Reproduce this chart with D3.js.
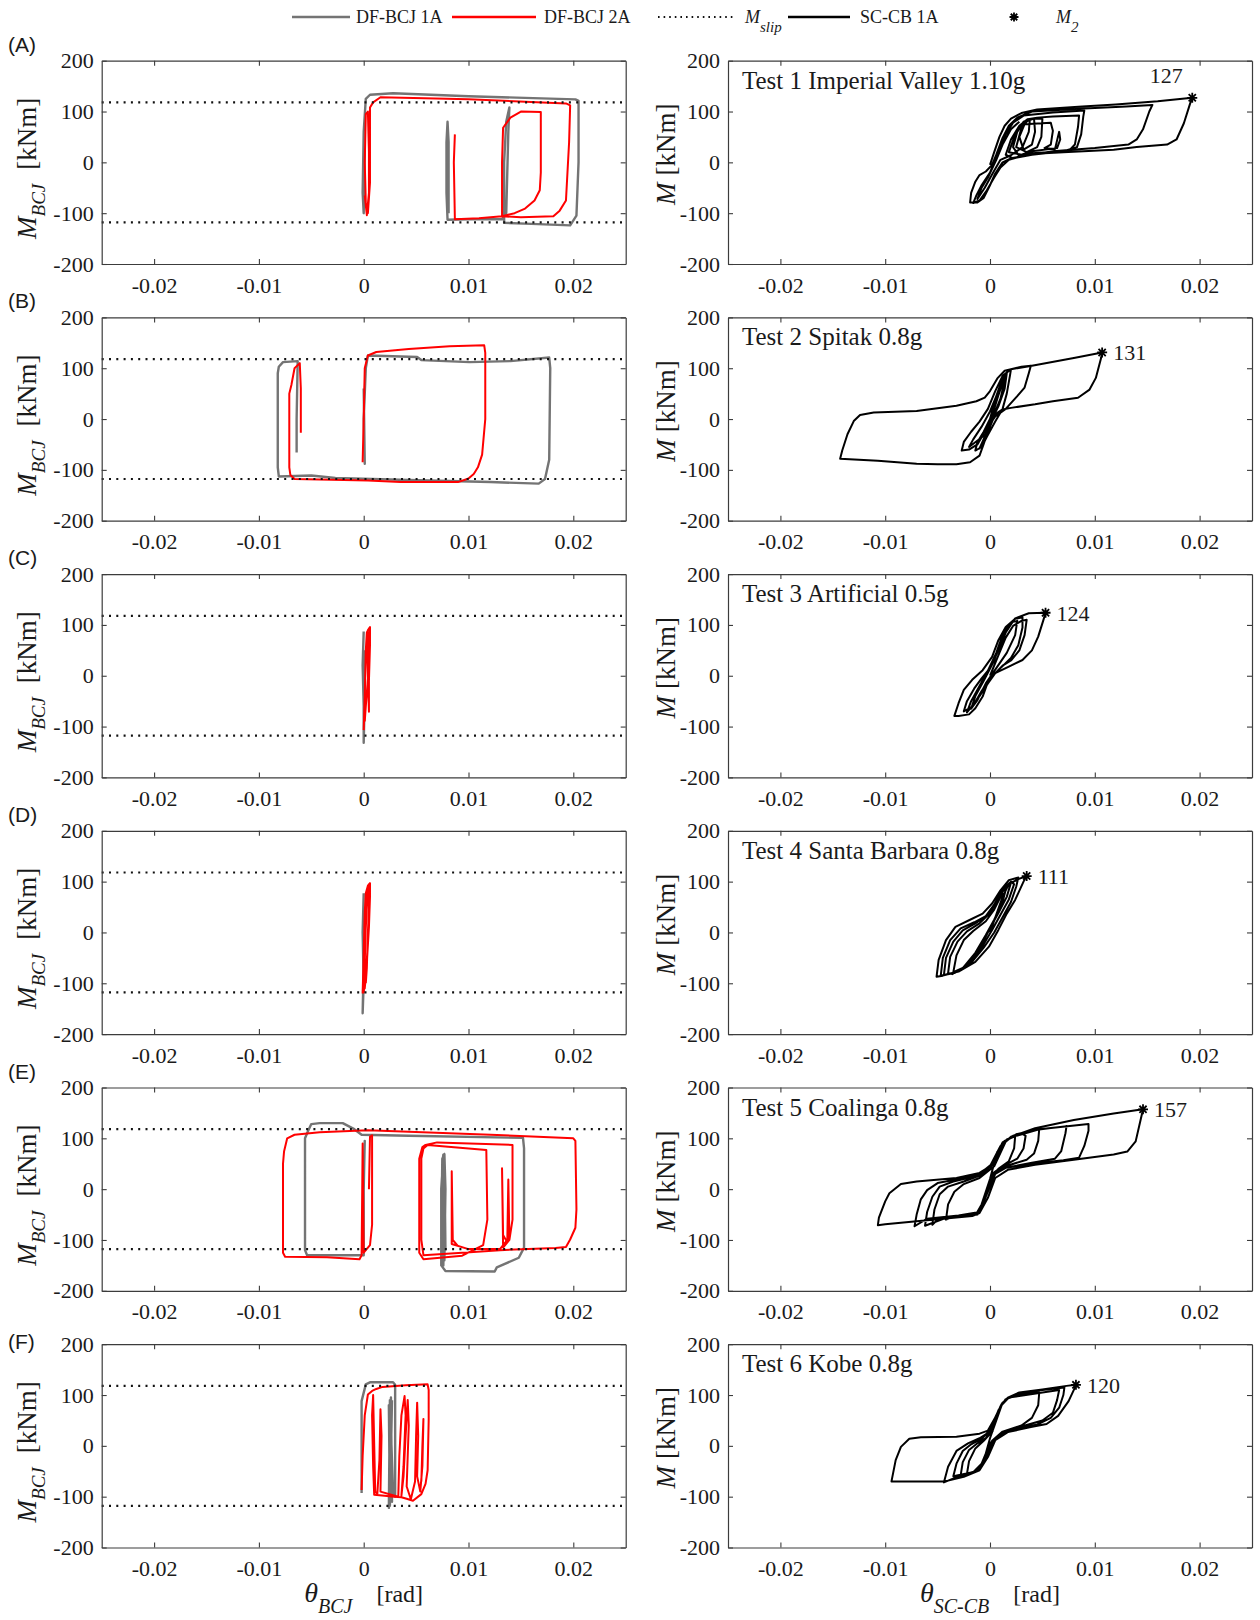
<!DOCTYPE html>
<html>
<head>
<meta charset="utf-8">
<script src="https://cdn.jsdelivr.net/npm/d3@7"></script>
<style>
  body { margin: 0; background: #ffffff; }
  svg { display: block; }
</style>
</head>
<body>
<svg id="fig" width="1260" height="1620"></svg>
<script>
// ---------- labels and ticks ----------
const panelLetters = ["(A)", "(B)", "(C)", "(D)", "(E)", "(F)"];
const testTitles = [
  "Test 1 Imperial Valley 1.10g",
  "Test 2 Spitak 0.8g",
  "Test 3 Artificial 0.5g",
  "Test 4 Santa Barbara 0.8g",
  "Test 5 Coalinga 0.8g",
  "Test 6 Kobe 0.8g"
];
const xTickValues = [-0.02, -0.01, 0, 0.01, 0.02];
const xTickLabels = ["-0.02", "-0.01", "0", "0.01", "0.02"];
const yTickValues = [-200, -100, 0, 100, 200];
const yTickLabels = ["-200", "-100", "0", "100", "200"];
const legendLabels = ["DF-BCJ 1A", "DF-BCJ 2A", "M|slip", "SC-CB 1A", "M|2"];

// slip moment of the friction joints [kNm]
const slipMoment = 118;

// peak moment M2 of each SC-CB test [kNm] and the rotation where it occurs [rad]
const peakMoment = [127, 131, 124, 111, 157, 120];
const peakRotation = [0.0193, 0.0107, 0.0053, 0.0035, 0.0146, 0.0082];

// ---------- DF-BCJ 1A  (theta_BCJ [rad], M_BCJ [kNm]) ----------
const bcj1A_test1 = [[0.0000,0],[0.0001,25],[0.0000,-100],[-0.0001,-60],[0.0000,60],[0.0002,125],[0.0006,133],[0.0028,136],[0.0100,130],[0.0202,124],[0.0205,121],[0.0205,0],[0.0203,-105],[0.0197,-124],[0.0160,-121],[0.0134,-119],[0.0134,0],[0.0136,80],[0.0139,108],[0.0138,60],[0.0136,-100],[0.0132,-112],[0.0100,-112],[0.0080,-113],[0.0079,-60],[0.0079,40],[0.0080,80],[0.0081,40],[0.0081,-100]];
const bcj1A_test2 = [[0.0000,60],[0.0001,-88],[0.0000,0],[0.0002,100],[0.0004,125],[0.0051,122],[0.0055,116],[0.0101,112],[0.0140,114],[0.0177,121],[0.0178,100],[0.0177,-80],[0.0173,-118],[0.0167,-127],[0.0121,-124],[0.0043,-120],[-0.0027,-116],[-0.0050,-111],[-0.0081,-113],[-0.0082,-95],[-0.0082,90],[-0.0081,103],[-0.0077,112],[-0.0063,114],[-0.0064,0],[-0.0064,-66]];
const bcj1A_test3 = [[0.0000,87],[-0.0001,20],[0.0000,-60],[0.0000,-132],[0.0001,-40],[0.0001,50]];
const bcj1A_test4 = [[0.0000,77],[-0.0001,0],[0.0000,-100],[-0.0001,-159],[0.0000,-60]];
const bcj1A_test5 = [[0.0000,0],[0.0001,95],[0.0000,40],[0.0000,-130],[-0.0030,-130],[-0.0054,-130],[-0.0056,-120],[-0.0056,100],[-0.0053,115],[-0.0050,128],[-0.0042,130],[-0.0020,130],[-0.0009,118],[-0.0002,107],[0.0043,105],[0.0152,101],[0.0153,80],[0.0153,-115],[0.0148,-135],[0.0127,-154],[0.0125,-162],[0.0078,-161],[0.0074,-150],[0.0074,0],[0.0076,65],[0.0077,69],[0.0078,0],[0.0077,-140],[0.0075,-130],[0.0075,50],[0.0076,68],[0.0077,40],[0.0076,-150],[0.0074,-100],[0.0075,60],[0.0077,69],[0.0078,-120]];
const bcj1A_test6 = [[-0.0002,-93],[-0.0002,88],[0.0002,121],[0.0006,125],[0.0028,125],[0.0030,120],[0.0030,-100],[0.0028,-90],[0.0025,90],[0.0024,-122],[0.0026,95],[0.0027,-110],[0.0024,80],[0.0025,-118],[0.0027,90]];

// ---------- DF-BCJ 2A ----------
const bcj2A_test1 = [[0.0001,-65],[0.0003,-104],[0.0005,-60],[0.0005,20],[0.0004,100],[0.0002,95],[0.0001,0],[0.0002,-80],[0.0004,-100],[0.0006,-40],[0.0006,60],[0.0006,108],[0.0009,118],[0.0016,128],[0.0100,124],[0.0193,116],[0.0197,112],[0.0196,40],[0.0193,-75],[0.0187,-95],[0.0181,-106],[0.0150,-108],[0.0132,-106],[0.0132,0],[0.0133,68],[0.0140,88],[0.0150,100],[0.0169,99],[0.0169,-20],[0.0168,-55],[0.0163,-75],[0.0154,-91],[0.0144,-100],[0.0132,-106],[0.0110,-110],[0.0087,-112],[0.0086,0],[0.0087,55]];
const bcj2A_test2 = [[-0.0001,-85],[0.0000,0],[0.0001,100],[0.0004,125],[0.0012,132],[0.0043,138],[0.0082,143],[0.0115,145],[0.0116,130],[0.0116,0],[0.0113,-70],[0.0109,-95],[0.0105,-108],[0.0100,-117],[0.0090,-124],[0.0035,-124],[0.0004,-121],[-0.0066,-118],[-0.0070,-110],[-0.0071,-95],[-0.0071,50],[-0.0069,67],[-0.0066,100],[-0.0061,110],[-0.0060,60],[-0.0060,-27]];
const bcj2A_test3 = [[0.0000,-107],[0.0001,-40],[0.0002,50],[0.0003,85],[0.0005,93],[0.0006,96],[0.0006,60],[0.0005,-10],[0.0005,-71],[0.0004,0],[0.0003,70],[0.0004,90],[0.0005,20],[0.0002,-60],[0.0001,-90]];
const bcj2A_test4 = [[-0.0001,-120],[0.0000,-40],[0.0001,40],[0.0002,77],[0.0004,92],[0.0006,97],[0.0006,70],[0.0005,11],[0.0003,-60],[0.0001,-100],[0.0000,-118],[0.0001,-60],[0.0002,20],[0.0003,70],[0.0005,95],[0.0005,40],[0.0004,-20],[0.0002,-87],[0.0001,-110],[0.0001,-30],[0.0003,50],[0.0004,85],[0.0006,90],[0.0004,0],[0.0003,-70],[0.0002,-100]];
const bcj2A_test5 = [[0.0005,0],[0.0006,103],[0.0008,106],[0.0008,-70],[0.0006,-110],[0.0000,-125],[-0.0001,90],[-0.0002,-130],[-0.0004,-138],[-0.0035,-134],[-0.0075,-133],[-0.0077,-125],[-0.0077,50],[-0.0076,74],[-0.0073,100],[-0.0066,107],[-0.0042,112],[0.0004,116],[0.0043,113],[0.0121,107],[0.0200,100],[0.0202,95],[0.0203,-40],[0.0202,-76],[0.0197,-99],[0.0193,-114],[0.0183,-116],[0.0130,-120],[0.0094,-125],[0.0057,-130],[0.0055,-100],[0.0055,60],[0.0057,80],[0.0061,87],[0.0117,77],[0.0118,-60],[0.0114,-110],[0.0094,-131],[0.0057,-138],[0.0053,-125],[0.0053,60],[0.0056,83],[0.0059,87],[0.0070,92],[0.0142,87],[0.0142,-60],[0.0139,-100],[0.0133,-115],[0.0132,41],[0.0133,-90],[0.0137,-105],[0.0138,19],[0.0139,-95],[0.0130,-118],[0.0100,-118],[0.0084,-108],[0.0084,35],[0.0085,-100],[0.0090,-112]];
const bcj2A_test6 = [[-0.0002,-87],[-0.0001,-20],[0.0001,60],[0.0004,101],[0.0008,108],[0.0012,112],[0.0018,116],[0.0040,119],[0.0061,121],[0.0062,110],[0.0062,50],[0.0061,-48],[0.0059,-75],[0.0055,-95],[0.0047,-108],[0.0041,-104],[0.0036,-101],[0.0029,-100],[0.0020,-98],[0.0010,-96],[0.0009,-40],[0.0008,60],[0.0009,100],[0.0011,-90],[0.0013,-95],[0.0015,-28],[0.0016,72],[0.0017,20],[0.0016,-90],[0.0033,-100],[0.0034,-20],[0.0036,60],[0.0039,98],[0.0040,60],[0.0038,-40],[0.0036,-98],[0.0038,-60],[0.0040,20],[0.0042,90],[0.0043,40],[0.0041,-80],[0.0045,-105],[0.0049,-70],[0.0050,20],[0.0051,85],[0.0052,20],[0.0051,-60],[0.0054,-90],[0.0056,-40],[0.0057,53],[0.0056,0],[0.0055,-70]];

// ---------- SC-CB 1A  (theta_SC-CB [rad], M [kNm]) ----------
const sccb_test1 = [[0.0000,-5],[0.0004,20],[0.0009,50],[0.0014,72],[0.0020,86],[0.0030,97],[0.0045,104],[0.0088,110],[0.0120,114],[0.0160,120],[0.0193,127],[0.0191,116],[0.0185,77],[0.0178,45],[0.0169,35],[0.0140,30],[0.0118,25],[0.0070,20],[0.0043,17],[0.0020,8],[0.0012,0],[0.0005,-22],[0.0000,-45],[-0.0006,-70],[-0.0012,-79],[-0.0019,-79],[-0.0018,-60],[-0.0014,-38],[-0.0010,-25],[-0.0004,-18],[0.0002,-5],[0.0006,15],[0.0012,48],[0.0018,72],[0.0026,88],[0.0040,100],[0.0090,106],[0.0130,110],[0.0155,113],[0.0152,100],[0.0146,65],[0.0140,45],[0.0132,35],[0.0100,28],[0.0060,22],[0.0030,12],[0.0018,5],[0.0010,-10],[0.0004,-30],[-0.0003,-55],[-0.0010,-75],[-0.0016,-80],[-0.0013,-65],[-0.0008,-45],[0.0000,-20],[0.0008,20],[0.0015,55],[0.0022,78],[0.0032,92],[0.0060,98],[0.0090,102],[0.0089,90],[0.0087,55],[0.0083,30],[0.0070,22],[0.0040,15],[0.0022,8],[0.0015,15],[0.0020,45],[0.0028,72],[0.0036,85],[0.0045,88],[0.0060,90],[0.0085,92],[0.0084,70],[0.0081,35],[0.0075,22],[0.0055,20],[0.0040,18],[0.0028,12],[0.0022,30],[0.0026,60],[0.0032,80],[0.0040,86],[0.0050,86],[0.0049,50],[0.0045,30],[0.0035,20],[0.0025,30],[0.0030,68],[0.0036,82],[0.0042,86],[0.0043,60],[0.0040,35],[0.0032,25],[0.0028,50],[0.0033,75],[0.0058,78],[0.0060,62],[0.0058,35],[0.0052,28],[0.0062,26],[0.0066,60],[0.0067,45],[0.0064,28],[0.0040,22],[0.0030,15],[0.0018,20],[0.0024,55],[0.0030,75],[0.0038,84],[0.0037,60],[0.0031,30],[0.0020,14],[0.0010,5],[0.0003,-20],[-0.0005,-50],[-0.0012,-72],[-0.0008,-50],[-0.0002,-30],[0.0006,5],[0.0012,35],[0.0020,65],[0.0028,80]];
const sccb_test2 = [[0.0000,0],[0.0006,45],[0.0012,80],[0.0018,97],[0.0030,103],[0.0039,105],[0.0037,90],[0.0033,62],[0.0026,45],[0.0015,20],[0.0005,5],[-0.0005,-25],[-0.0012,-50],[-0.0020,-60],[-0.0027,-62],[-0.0025,-45],[-0.0018,-25],[-0.0010,-5],[-0.0002,20],[0.0005,55],[0.0012,85],[0.0020,98],[0.0040,105],[0.0080,120],[0.0107,131],[0.0106,120],[0.0101,81],[0.0095,58],[0.0084,42],[0.0060,35],[0.0043,29],[0.0020,22],[0.0012,19],[0.0007,12],[0.0003,0],[-0.0002,-25],[-0.0006,-49],[-0.0010,-72],[-0.0019,-85],[-0.0032,-89],[-0.0050,-89],[-0.0070,-88],[-0.0107,-82],[-0.0143,-78],[-0.0141,-62],[-0.0136,-30],[-0.0130,-4],[-0.0124,8],[-0.0111,13],[-0.0070,16],[-0.0032,26],[-0.0013,35],[-0.0005,42],[0.0000,55],[0.0007,80],[0.0014,95],[0.0020,98],[0.0019,85],[0.0016,50],[0.0012,20],[0.0005,-5],[-0.0003,-35],[-0.0008,-55],[-0.0014,-62],[-0.0012,-45],[-0.0006,-25],[0.0000,0],[0.0006,35],[0.0012,70],[0.0016,90],[0.0014,60],[0.0008,25],[0.0002,0],[-0.0006,-40],[-0.0010,-58],[-0.0004,-30],[0.0004,20],[0.0010,60],[0.0015,85],[0.0010,40],[0.0003,5],[-0.0004,-30],[-0.0020,-55],[-0.0016,-40],[-0.0008,-15],[0.0000,15],[0.0008,55]];
const sccb_test3 = [[0.0000,0],[0.0008,40],[0.0015,75],[0.0022,98],[0.0030,108],[0.0035,110],[0.0033,80],[0.0028,50],[0.0020,30],[0.0012,20],[0.0005,5],[-0.0002,-15],[-0.0010,-40],[-0.0018,-62],[-0.0025,-70],[-0.0022,-50],[-0.0015,-25],[-0.0008,-5],[0.0000,15],[0.0008,50],[0.0015,85],[0.0024,113],[0.0037,123],[0.0053,124],[0.0051,110],[0.0046,77],[0.0040,50],[0.0031,31],[0.0018,18],[0.0005,5],[-0.0001,-6],[-0.0007,-41],[-0.0014,-64],[-0.0020,-76],[-0.0030,-79],[-0.0034,-79],[-0.0030,-54],[-0.0025,-28],[-0.0017,-8],[-0.0007,11],[0.0002,37],[0.0008,70],[0.0015,96],[0.0024,112],[0.0031,115],[0.0031,95],[0.0027,60],[0.0020,35],[0.0010,15],[0.0000,-5],[-0.0008,-30],[-0.0015,-55],[-0.0022,-72],[-0.0018,-50],[-0.0010,-20],[-0.0002,10],[0.0006,45],[0.0012,80],[0.0020,105],[0.0026,108],[0.0024,80],[0.0016,45],[0.0006,15],[-0.0004,-15],[-0.0012,-48],[-0.0018,-65],[-0.0014,-40],[-0.0006,-10],[0.0004,30],[0.0010,65],[0.0018,98]];
const sccb_test4 = [[0.0000,0],[0.0006,35],[0.0012,70],[0.0018,95],[0.0027,105],[0.0035,111],[0.0032,100],[0.0024,64],[0.0016,37],[0.0008,5],[-0.0001,-28],[-0.0014,-58],[-0.0030,-77],[-0.0045,-85],[-0.0051,-87],[-0.0049,-54],[-0.0042,-15],[-0.0033,11],[-0.0020,24],[-0.0007,37],[0.0002,57],[0.0010,83],[0.0018,103],[0.0027,108],[0.0025,90],[0.0020,60],[0.0012,30],[0.0004,0],[-0.0006,-30],[-0.0018,-60],[-0.0032,-78],[-0.0047,-85],[-0.0045,-50],[-0.0038,-15],[-0.0028,8],[-0.0015,20],[-0.0004,32],[0.0004,55],[0.0012,85],[0.0020,100],[0.0023,95],[0.0018,65],[0.0010,35],[0.0002,5],[-0.0008,-30],[-0.0020,-62],[-0.0034,-80],[-0.0044,-84],[-0.0042,-50],[-0.0035,-18],[-0.0026,4],[-0.0014,18],[-0.0002,35],[0.0006,62],[0.0014,90],[0.0020,98],[0.0016,70],[0.0008,38],[0.0000,8],[-0.0010,-32],[-0.0022,-66],[-0.0036,-82],[-0.0040,-80],[-0.0038,-48],[-0.0031,-18],[-0.0022,2],[-0.0010,18],[0.0000,38],[0.0008,68],[0.0016,92],[0.0012,60],[0.0004,25],[-0.0004,-5],[-0.0014,-40],[-0.0026,-70],[-0.0035,-78],[-0.0032,-45],[-0.0025,-15],[-0.0016,3],[-0.0004,22],[0.0004,45],[0.0012,78]];
const sccb_test5 = [[0.0000,20],[0.0007,74],[0.0013,90],[0.0020,103],[0.0043,120],[0.0080,136],[0.0118,149],[0.0146,157],[0.0144,139],[0.0139,94],[0.0131,74],[0.0118,68],[0.0080,58],[0.0043,48],[0.0017,38],[0.0005,22],[-0.0002,-17],[-0.0010,-47],[-0.0017,-53],[-0.0070,-63],[-0.0100,-69],[-0.0107,-71],[-0.0106,-56],[-0.0100,-24],[-0.0096,-8],[-0.0085,10],[-0.0070,15],[-0.0032,22],[-0.0010,32],[0.0000,45],[0.0010,85],[0.0020,102],[0.0047,118],[0.0094,128],[0.0094,115],[0.0090,85],[0.0085,62],[0.0070,57],[0.0040,50],[0.0015,42],[0.0005,30],[-0.0003,-10],[-0.0010,-45],[-0.0030,-52],[-0.0060,-58],[-0.0072,-73],[-0.0070,-50],[-0.0066,-20],[-0.0060,-2],[-0.0050,12],[-0.0030,20],[-0.0010,30],[0.0002,50],[0.0012,92],[0.0025,108],[0.0045,117],[0.0073,124],[0.0072,110],[0.0068,75],[0.0062,60],[0.0040,52],[0.0015,42],[0.0002,28],[-0.0005,-20],[-0.0012,-48],[-0.0040,-55],[-0.0062,-72],[-0.0060,-45],[-0.0055,-15],[-0.0048,5],[-0.0035,15],[-0.0015,25],[0.0000,40],[0.0010,85],[0.0022,105],[0.0047,119],[0.0046,95],[0.0042,70],[0.0035,58],[0.0015,45],[0.0003,30],[-0.0004,-15],[-0.0011,-48],[-0.0030,-54],[-0.0050,-60],[-0.0055,-70],[-0.0053,-40],[-0.0048,-10],[-0.0040,5],[-0.0025,15],[-0.0008,28],[0.0004,55],[0.0014,95],[0.0030,110],[0.0034,105],[0.0032,80],[0.0026,60],[0.0012,45],[0.0002,30],[-0.0006,-20],[-0.0012,-50],[-0.0035,-55],[-0.0042,-60],[-0.0040,-30],[-0.0034,-5],[-0.0025,10],[-0.0010,22],[0.0004,45],[0.0016,98],[0.0024,104],[0.0023,80],[0.0018,55],[0.0008,40],[0.0000,20],[-0.0008,-30],[-0.0014,-52]];
const sccb_test6 = [[0.0000,20],[0.0005,56],[0.0011,82],[0.0017,95],[0.0028,105],[0.0050,111],[0.0073,118],[0.0082,120],[0.0080,110],[0.0075,88],[0.0065,59],[0.0054,43],[0.0039,37],[0.0017,27],[0.0005,11],[-0.0002,-22],[-0.0010,-48],[-0.0025,-61],[-0.0044,-70],[-0.0066,-70],[-0.0094,-70],[-0.0090,-28],[-0.0085,-2],[-0.0077,14],[-0.0066,17],[-0.0032,18],[-0.0010,24],[-0.0002,30],[0.0005,56],[0.0011,82],[0.0017,95],[0.0030,105],[0.0050,110],[0.0071,115],[0.0070,100],[0.0066,75],[0.0058,55],[0.0045,42],[0.0030,35],[0.0014,25],[0.0004,10],[-0.0004,-25],[-0.0012,-50],[-0.0030,-60],[-0.0044,-72],[-0.0040,-41],[-0.0032,-10],[-0.0021,5],[-0.0010,15],[0.0000,28],[0.0008,70],[0.0015,92],[0.0030,102],[0.0047,105],[0.0046,80],[0.0040,55],[0.0030,40],[0.0012,28],[0.0002,10],[-0.0005,-30],[-0.0012,-50],[-0.0035,-60],[-0.0032,-35],[-0.0026,-10],[-0.0018,3],[-0.0008,14],[0.0002,35],[0.0010,78],[0.0018,95],[0.0066,110],[0.0064,90],[0.0060,65],[0.0050,50],[0.0030,38],[0.0010,24],[0.0000,5],[-0.0008,-35],[-0.0016,-52],[-0.0028,-58],[-0.0026,-32],[-0.0020,-8],[-0.0012,5],[-0.0004,15],[0.0004,45],[0.0012,85],[0.0006,50],[0.0000,15],[-0.0006,-30],[-0.0014,-50],[-0.0022,-55],[-0.0020,-30],[-0.0014,-5],[-0.0006,10],[0.0003,30]];

const bcj1A = [bcj1A_test1, bcj1A_test2, bcj1A_test3, bcj1A_test4, bcj1A_test5, bcj1A_test6];
const bcj2A = [bcj2A_test1, bcj2A_test2, bcj2A_test3, bcj2A_test4, bcj2A_test5, bcj2A_test6];
const sccb = [sccb_test1, sccb_test2, sccb_test3, sccb_test4, sccb_test5, sccb_test6];

// ---------- layout ----------
const serif = '"Liberation Serif","Times New Roman",Times,serif';
const sans = '"Liberation Sans",Arial,Helvetica,sans-serif';
const colLeft = [101.7, 728];
const plotW = 524, plotH = 203.3;
const rowTop0 = 60.7, rowStep = 256.7;
const letterDy = [-9, -9, -9, -9, -9, 5];
const peakLabelAbove = [true, false, false, false, false, false];
const colors = { j1: "#747474", j2: "#ff0000", sc: "#000000", axis: "#3c3c3c", text: "#1a1a1a" };

const svg = d3.select("#fig");
svg.append("rect").attr("width", 1260).attr("height", 1620).attr("fill", "#fff");

const x = d3.scaleLinear().domain([-0.025, 0.025]).range([0, plotW]);
const y = d3.scaleLinear().domain([-200, 200]).range([plotH, 0]);
const line = d3.line().x(d => x(d[0])).y(d => y(d[1]));

function starPath(r) {
  const a = r * 0.72;
  return `M${-r},0L${r},0M0,${-r}L0,${r}M${-a},${-a}L${a},${a}M${-a},${a}L${a},${-a}`;
}

function frame(g) {
  const styleAxis = sel => {
    sel.attr("font-family", serif).attr("font-size", 22).attr("color", colors.axis);
    sel.selectAll("path.domain").attr("stroke-width", 1.2);
    sel.selectAll(".tick line").attr("stroke-width", 1.1);
    sel.selectAll(".tick text").attr("fill", colors.text)
      .attr("font-family", serif).style("font-family", serif).style("font-size", "22px");
  };
  g.append("g").attr("transform", `translate(0,${plotH})`)
    .call(d3.axisBottom(x).tickValues(xTickValues).tickFormat((d, i) => xTickLabels[i])
      .tickSizeInner(-5).tickSizeOuter(0).tickPadding(13)).call(styleAxis);
  g.append("g")
    .call(d3.axisTop(x).tickValues(xTickValues).tickFormat("").tickSizeInner(-5).tickSizeOuter(0)).call(styleAxis);
  g.append("g")
    .call(d3.axisLeft(y).tickValues(yTickValues).tickFormat((d, i) => yTickLabels[i])
      .tickSizeInner(-5).tickSizeOuter(0).tickPadding(8)).call(styleAxis);
  g.append("g").attr("transform", `translate(${plotW},0)`)
    .call(d3.axisRight(y).tickValues(yTickValues).tickFormat("").tickSizeInner(-5).tickSizeOuter(0)).call(styleAxis);
}

for (let i = 0; i < 6; i++) {
  const top = rowTop0 + i * rowStep;

  // ---- left: friction joint moment-rotation ----
  const gl = svg.append("g").attr("transform", `translate(${colLeft[0]},${top})`);
  gl.append("path").datum(bcj1A[i]).attr("d", line).attr("fill", "none")
    .attr("stroke", colors.j1).attr("stroke-width", 2.4).attr("stroke-linejoin", "round");
  gl.append("path").datum(bcj2A[i]).attr("d", line).attr("fill", "none")
    .attr("stroke", colors.j2).attr("stroke-width", 2).attr("stroke-linejoin", "round");
  [slipMoment, -slipMoment].forEach(m => {
    gl.append("line").attr("x1", x(-0.025)).attr("x2", x(0.025)).attr("y1", y(m)).attr("y2", y(m))
      .attr("stroke", "#111").attr("stroke-width", 2.2).attr("stroke-dasharray", "2 5.3");
  });
  frame(gl);

  svg.append("text").attr("x", 8).attr("y", top + letterDy[i])
    .attr("font-family", sans).attr("font-size", 21).attr("fill", colors.text).text(panelLetters[i]);

  const yl = svg.append("text").attr("transform", `translate(36,${top + plotH / 2 + 6}) rotate(-90)`)
    .attr("text-anchor", "middle").attr("font-family", serif).attr("font-size", 27).attr("fill", colors.text);
  yl.append("tspan").attr("font-style", "italic").text("M");
  yl.append("tspan").attr("font-style", "italic").attr("font-size", 19).attr("dy", 9).text("BCJ");
  yl.append("tspan").attr("dy", -9).attr("dx", 14).text("[kNm]");

  // ---- right: self-centering beam moment-rotation ----
  const gr = svg.append("g").attr("transform", `translate(${colLeft[1]},${top})`);
  gr.append("path").datum(sccb[i]).attr("d", line).attr("fill", "none")
    .attr("stroke", colors.sc).attr("stroke-width", 2).attr("stroke-linejoin", "round");
  frame(gr);

  const sx = x(peakRotation[i]), sy = y(peakMoment[i]);
  gr.append("path").attr("transform", `translate(${sx},${sy})`).attr("d", starPath(5))
    .attr("stroke", "#000").attr("stroke-width", 1.8).attr("fill", "none");
  const pl = gr.append("text").attr("font-family", serif).attr("font-size", 22).attr("fill", colors.text)
    .text(peakMoment[i]);
  if (peakLabelAbove[i]) pl.attr("x", sx - 26).attr("y", sy - 15).attr("text-anchor", "middle");
  else pl.attr("x", sx + 11).attr("y", sy + 8);

  gr.append("text").attr("x", 14).attr("y", 28).attr("font-family", serif).attr("font-size", 25)
    .attr("fill", colors.text).text(testTitles[i]);

  const yr = svg.append("text").attr("transform", `translate(675,${top + plotH / 2 - 8}) rotate(-90)`)
    .attr("text-anchor", "middle").attr("font-family", serif).attr("font-size", 27).attr("fill", colors.text);
  yr.append("tspan").attr("font-style", "italic").text("M");
  yr.append("tspan").attr("dx", 7).text("[kNm]");
}

// ---------- x-axis titles ----------
const xAxisTitles = [["BCJ", colLeft[0]], ["SC-CB", colLeft[1]]];
xAxisTitles.forEach(([sub, left]) => {
  const t = svg.append("text").attr("x", left + plotW / 2).attr("y", 1602).attr("text-anchor", "middle")
    .attr("font-family", serif).attr("font-size", 28).attr("fill", colors.text);
  t.append("tspan").attr("font-style", "italic").text("θ");
  t.append("tspan").attr("font-style", "italic").attr("font-size", 20).attr("dy", 11).text(sub);
  t.append("tspan").attr("dy", -11).attr("dx", 24).attr("font-size", 24).text("[rad]");
});

// ---------- legend ----------
const lg = svg.append("g").attr("font-family", serif).attr("font-size", 18).attr("fill", colors.text);
const legY = 17;
function legText(xp, label) {
  const parts = label.split("|");
  const t = lg.append("text").attr("x", xp).attr("y", legY + 6);
  if (parts.length === 1) { t.text(parts[0]); return; }
  t.append("tspan").attr("font-style", "italic").text(parts[0]);
  t.append("tspan").attr("font-style", "italic").attr("font-size", 15).attr("dy", 9).text(parts[1]);
}
lg.append("line").attr("x1", 292).attr("x2", 350).attr("y1", legY).attr("y2", legY).attr("stroke", colors.j1).attr("stroke-width", 2.5);
legText(356, legendLabels[0]);
lg.append("line").attr("x1", 452).attr("x2", 536).attr("y1", legY).attr("y2", legY).attr("stroke", colors.j2).attr("stroke-width", 2.5);
legText(544, legendLabels[1]);
lg.append("line").attr("x1", 658).attr("x2", 734).attr("y1", legY).attr("y2", legY).attr("stroke", "#111").attr("stroke-width", 2).attr("stroke-dasharray", "1.6 4");
legText(745, legendLabels[2]);
lg.append("line").attr("x1", 788).attr("x2", 850).attr("y1", legY).attr("y2", legY).attr("stroke", "#000").attr("stroke-width", 2.5);
legText(860, legendLabels[3]);
lg.append("path").attr("transform", `translate(1014,${legY})`).attr("d", starPath(4.5))
  .attr("stroke", "#000").attr("stroke-width", 1.8).attr("fill", "none");
legText(1056, legendLabels[4]);
</script>
</body>
</html>
